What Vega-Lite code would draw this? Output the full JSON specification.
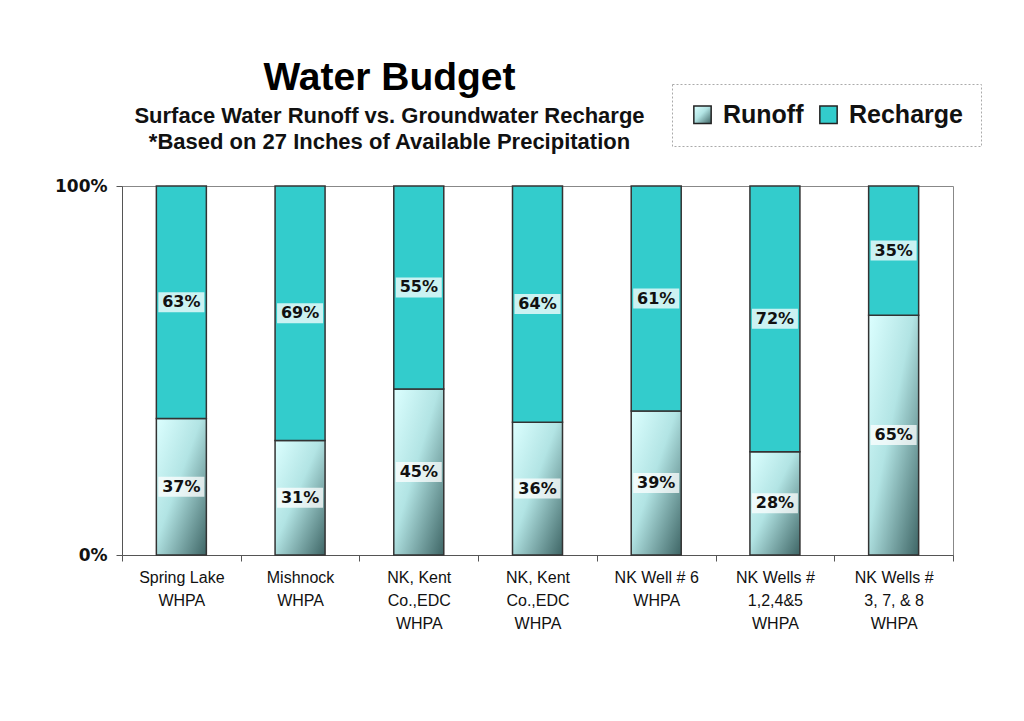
{
  "$schema": "https://vega.github.io/schema/vega-lite/v6.json",
  "autosize": "none",
  "width": 831,
  "height": 369,
  "padding": {"left": 122, "top": 186, "right": 71, "bottom": 166},
  "background": "white",
  "title": {
    "text": "Water Budget",
    "subtitle": ["Surface Water Runoff  vs. Groundwater Recharge", "*Based on 27 Inches of Available Precipitation"],
    "anchor": "middle",
    "dx": -148,
    "offset": -69,
    "font": "Liberation Sans",
    "fontSize": 39,
    "fontWeight": "bold",
    "color": "#000000",
    "subtitleFont": "Liberation Sans",
    "subtitleFontSize": 22,
    "subtitleFontWeight": "bold",
    "subtitleColor": "#111111",
    "subtitleLineHeight": 26,
    "subtitlePadding": 8
  },
  "data": {
    "values": [
      {"site": "Spring Lake|WHPA", "series": "Runoff", "pct": 37},
      {"site": "Spring Lake|WHPA", "series": "Recharge", "pct": 63},
      {"site": "Mishnock|WHPA", "series": "Runoff", "pct": 31},
      {"site": "Mishnock|WHPA", "series": "Recharge", "pct": 69},
      {"site": "NK, Kent|Co.,EDC|WHPA", "series": "Runoff", "pct": 45},
      {"site": "NK, Kent|Co.,EDC|WHPA", "series": "Recharge", "pct": 55},
      {"site": "NK, Kent|Co.,EDC|WHPA ", "series": "Runoff", "pct": 36},
      {"site": "NK, Kent|Co.,EDC|WHPA ", "series": "Recharge", "pct": 64},
      {"site": "NK Well # 6|WHPA", "series": "Runoff", "pct": 39},
      {"site": "NK Well # 6|WHPA", "series": "Recharge", "pct": 61},
      {"site": "NK Wells #|1,2,4&5|WHPA", "series": "Runoff", "pct": 28},
      {"site": "NK Wells #|1,2,4&5|WHPA", "series": "Recharge", "pct": 72},
      {"site": "NK Wells #|3, 7, & 8|WHPA", "series": "Runoff", "pct": 65},
      {"site": "NK Wells #|3, 7, & 8|WHPA", "series": "Recharge", "pct": 35}
    ]
  },
  "transform": [
    {"calculate": "datum.series === 'Runoff' ? 0 : 1", "as": "stackOrder"},
    {"stack": "pct", "groupby": ["site"], "sort": [{"field": "stackOrder", "order": "ascending"}], "as": ["y0", "y1"]},
    {"calculate": "(datum.y0 + datum.y1) / 2", "as": "ymid"},
    {"calculate": "datum.pct + '%'", "as": "label"}
  ],
  "encoding": {
    "x": {
      "field": "site",
      "type": "nominal",
      "sort": null,
      "scale": {"paddingInner": 0, "paddingOuter": 0},
      "axis": {
        "title": null,
        "labelAngle": 0,
        "tickBand": "extent",
        "labelExpr": "isValid(datum.value) ? split(datum.value, '|') : ''",
        "labelFont": "Liberation Sans",
        "labelFontSize": 16,
        "labelColor": "#111111",
        "labelLineHeight": 23,
        "labelPadding": 8,
        "labelBaseline": "top",
        "tickSize": 6,
        "tickColor": "#555555",
        "domainColor": "#555555",
        "labelLimit": 200
      }
    }
  },
  "layer": [
    {
      "mark": {"type": "bar", "width": 50, "stroke": "#333333", "strokeWidth": 1.5},
      "encoding": {
        "y": {
          "field": "y0",
          "type": "quantitative",
          "scale": {"domain": [0, 100], "nice": false},
          "axis": {
            "title": null,
            "values": [0, 100],
            "labelExpr": "datum.value + '%'",
            "labelFont": "DejaVu Sans",
            "labelFontWeight": "bold",
            "labelFontSize": 17,
            "labelColor": "#111111",
            "labelPadding": 9,
            "tickSize": 6,
            "tickColor": "#555555",
            "domainColor": "#555555",
            "grid": false
          }
        },
        "y2": {"field": "y1"},
        "color": {
          "field": "series",
          "type": "nominal",
          "scale": {
            "domain": ["Runoff", "Recharge"],
            "range": [
              {"expr": "{gradient: 'linear', x1: 0, y1: 0, x2: 1, y2: 1, stops: [{offset: 0, color: '#dcffff'}, {offset: 0.45, color: '#b2e4e4'}, {offset: 1, color: '#3e6565'}]}"},
              "#33CCCC"
            ]
          },
          "legend": {
            "title": null,
            "orient": "none",
            "legendX": 550,
            "legendY": -102,
            "direction": "horizontal",
            "symbolType": "square",
            "symbolSize": 300,
            "symbolStrokeColor": "#222222",
            "symbolStrokeWidth": 1.5,
            "symbolOpacity": 1,
            "labelFont": "Liberation Sans",
            "labelFontSize": 25,
            "labelFontWeight": "bold",
            "labelColor": "#111111",
            "labelOffset": 8,
            "columnPadding": 12,
            "padding": 18,
            "strokeColor": "#aaaaaa",
            "labelLimit": 300,
            "encode": {"legend": {"update": {"strokeDash": {"value": [2, 2]}}}}
          }
        },
        "order": {"field": "stackOrder"}
      }
    },
    {
      "mark": {"type": "tick", "size": 46, "thickness": 20, "color": "white", "opacity": 0.75},
      "encoding": {
        "y": {"field": "ymid", "type": "quantitative"}
      }
    },
    {
      "mark": {"type": "text", "font": "DejaVu Sans", "fontWeight": "bold", "fontSize": 16, "color": "#111111", "baseline": "middle"},
      "encoding": {
        "y": {"field": "ymid", "type": "quantitative"},
        "text": {"field": "label", "type": "nominal"}
      }
    }
  ],
  "config": {
    "view": {"stroke": "#888888", "strokeWidth": 1}
  }
}
